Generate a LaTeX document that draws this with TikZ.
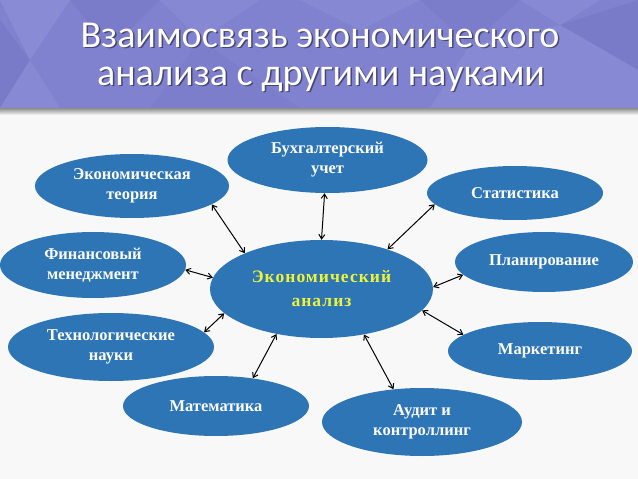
\documentclass[tikz,border=0pt]{standalone}
\usepackage{fontspec}
\setmainfont{Liberation Serif}
\newfontfamily\titlefont{Carlito}
\usepackage{tikz}
\usetikzlibrary{shapes.geometric, arrows.meta}
\definecolor{ovalblue}{RGB}{46,117,182}
\definecolor{keyyellow}{RGB}{236,244,60}
\definecolor{bannerbase}{RGB}{128,130,207}
\definecolor{bannerlight}{RGB}{150,152,222}
\definecolor{bannerdark}{RGB}{110,112,192}
\definecolor{pagegray}{RGB}{248,248,248}

\begin{document}
\begin{tikzpicture}[
    x=1pt, y=-1pt,
    oval/.style={ellipse, fill=ovalblue, text=white, align=center, inner sep=0pt,
                 font=\fontsize{16.5}{20}\selectfont\bfseries},
    keyoval/.style={ellipse, fill=ovalblue, text=keyyellow, align=center, inner sep=0pt,
                    font=\fontsize{17.5}{24}\selectfont\bfseries\addfontfeatures{LetterSpace=6}},
    titletext/.style={anchor=base, text=white, font=\titlefont\fontsize{38}{42}\selectfont},
    titleshade/.style={anchor=base, text=black, opacity=0.45, font=\titlefont\fontsize{38}{42}\selectfont},
    arr/.style={{Straight Barb[length=4.5pt,width=6pt]}-{Straight Barb[length=4.5pt,width=6pt]},
                line width=1pt, draw=black}
]
\useasboundingbox (0,0) rectangle (638,479);
\fill[pagegray] (0,0) rectangle (638,479);

% banner
\fill[bannerbase] (0,0) rectangle (638,108);
\fill[bannerlight, opacity=0.45] (0,0) -- (70,0) -- (30,60) -- cycle;
\fill[bannerdark, opacity=0.35] (0,20) -- (30,60) -- (0,108) -- cycle;
\fill[bannerlight, opacity=0.35] (30,60) -- (60,108) -- (0,108) -- cycle;
\fill[bannerdark, opacity=0.3] (70,0) -- (160,0) -- (110,50) -- cycle;
\fill[bannerlight, opacity=0.3] (160,0) -- (260,0) -- (200,40) -- cycle;
\fill[bannerdark, opacity=0.2] (200,40) -- (300,108) -- (150,108) -- cycle;
\fill[bannerlight, opacity=0.3] (300,0) -- (420,0) -- (360,30) -- cycle;
\fill[bannerdark, opacity=0.25] (420,0) -- (520,0) -- (470,45) -- cycle;
\fill[bannerlight, opacity=0.35] (470,45) -- (560,25) -- (540,108) -- (430,108) -- cycle;
\fill[bannerdark, opacity=0.35] (560,25) -- (638,0) -- (638,70) -- cycle;
\fill[bannerlight, opacity=0.35] (560,25) -- (638,70) -- (638,108) -- (540,108) -- cycle;
\fill[bannerlight, opacity=0.35] (520,0) -- (600,0) -- (560,25) -- cycle;
\shade[top color=black!45, bottom color=pagegray] (0,108) rectangle (638,115);

\node[titleshade] (title1s) at (321.5,48.5) {Взаимосвязь экономического};
\node[titleshade] (title2s) at (322.5,86.5) {анализа с другими науками};
\node[titletext] (title1) at (320,47) {Взаимосвязь экономического};
\node[titletext] (title2) at (321,85) {анализа с другими науками};

% ovals
\node[keyoval, minimum width=223pt, minimum height=98pt] (analiz) at (321.5,289) {Экономический\\анализ};
\node[oval, minimum width=200pt, minimum height=66pt] (buh) at (327.5,160) {Бухгалтерский\\учет};
\node[oval, minimum width=194pt, minimum height=64pt] (teor) at (132,186) {Экономическая\\теория};
\node[oval, minimum width=186pt, minimum height=66pt] (fin) at (93,265) {Финансовый\\менеджмент};
\node[oval, minimum width=206pt, minimum height=68pt] (tech) at (111,347) {Технологические\\науки};
\node[oval, minimum width=186pt, minimum height=60pt] (math) at (216,406) {Математика};
\node[oval, minimum width=200pt, minimum height=68pt] (audit) at (422,422) {Аудит и\\контроллинг};
\node[oval, minimum width=184pt, minimum height=58pt] (mark) at (540,351) {Маркетинг};
\node[oval, minimum width=178pt, minimum height=60pt] (plan) at (544,262) {Планирование};
\node[oval, minimum width=176pt, minimum height=54pt] (stat) at (515,193) {Статистика};

\draw[arr] (teor.-13) -- (analiz.155);
\draw[arr] (fin.-3) -- (analiz.174);
\draw[arr] (buh.-95) -- (analiz.90);
\draw[arr] (stat.-172) -- (analiz.31);
\draw[arr] (plan.-171) -- (analiz.1);
\draw[arr] (mark.168) -- (analiz.-12);
\draw[arr] (audit.131) -- (analiz.-47);
\draw[arr] (math.37) -- (analiz.-135);
\draw[arr] (tech.9) -- (analiz.-166);
\end{tikzpicture}
\end{document}
